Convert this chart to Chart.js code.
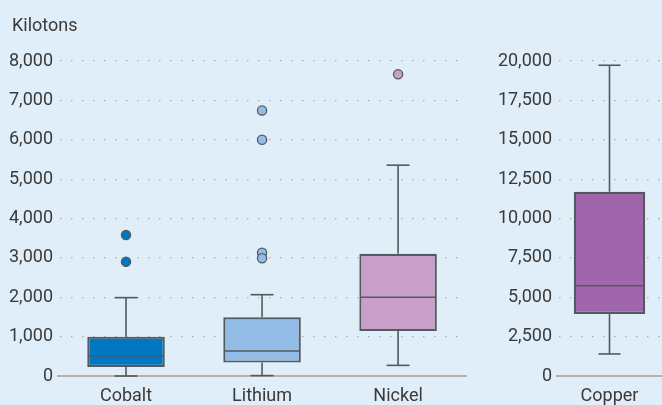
<!DOCTYPE html>
<html><head><meta charset="utf-8">
<script src="https://cdn.jsdelivr.net/npm/chart.js@4.4.0/dist/chart.umd.min.js"></script>
<style>
html,body{margin:0;padding:0;background:#e0eefa;}
#wrap{position:relative;width:662px;height:405px;overflow:hidden;background:#e0eefa}
#c1{position:absolute;left:0;top:0}
#c2{position:absolute;left:480px;top:0}
#ttl{position:absolute;left:12px;top:16px;font:18px/18px Roboto;color:#3a3a3a;white-space:nowrap}
</style></head><body>
<div id="wrap"><canvas id="c1" width="472" height="405"></canvas><canvas id="c2" width="182" height="405"></canvas><div id="ttl"></div></div>
<script>
// ---- data (left panel) ----
const categoriesLeft = ['Cobalt', 'Lithium', 'Nickel'];
const minLeft = [0, 10, 270];
const q1Left = [230, 340, 1140];
const medianLeft = [515, 635, 2000];
const q3Left = [1000, 1490, 3105];
const maxLeft = [1990, 2065, 5355];
const outliersLeft = [[3580, 2900], [6745, 6000, 3130, 2990], [7665]];
const colorsLeft = ['#0077c1', '#93bde6', '#c89fc8'];
const yTicksLeft = [0, 1000, 2000, 3000, 4000, 5000, 6000, 7000, 8000];

// ---- data (right panel) ----
const categoriesRight = ['Copper'];
const minRight = [1400];
const q1Right = [3940];
const medianRight = [5730];
const q3Right = [11700];
const maxRight = [19730];
const outliersRight = [[]];
const colorsRight = ['#a066ab'];
const yTicksRight = [0, 2500, 5000, 7500, 10000, 12500, 15000, 17500, 20000];

const yLabel = 'Kilotons';
document.getElementById('ttl').textContent = yLabel;

const TEXT = '#3a3a3a';
const STROKE = '#535a5b';
Chart.defaults.font.family = 'Roboto';
Chart.defaults.font.size = 18;
Chart.defaults.color = TEXT;

const boxPlugin = {
  id: 'boxWhisk',
  afterDatasetsDraw(chart, args, o) {
    const {ctx} = chart;
    const x = chart.scales.x, y = chart.scales.y;
    const meta = chart.getDatasetMeta(0);
    ctx.save();
    ctx.strokeStyle = STROKE;
    ctx.lineCap = 'butt';
    const seg = (x1, y1, x2, y2) => { ctx.beginPath(); ctx.moveTo(x1, y1); ctx.lineTo(x2, y2); ctx.stroke(); };
    o.cats.forEach((c, i) => {
      const cx = x.getPixelForValue(i);
      const half = meta.data[i].width / 2;
      const yMin = y.getPixelForValue(o.min[i]);
      const yQ1 = y.getPixelForValue(o.q1[i]);
      const yMed = y.getPixelForValue(o.med[i]);
      const yQ3 = y.getPixelForValue(o.q3[i]);
      const yMax = y.getPixelForValue(o.max[i]);
      ctx.lineWidth = 1.6;
      seg(cx, yQ3, cx, yMax);
      seg(cx, yQ1, cx, yMin);
      seg(cx - o.cap / 2, yMax, cx + o.cap / 2, yMax);
      seg(cx - o.cap / 2, yMin, cx + o.cap / 2, yMin);
      ctx.lineWidth = 1.6;
      seg(cx - half + 1, yMed, cx + half - 1, yMed);
    });
    ctx.restore();
  }
};

function makeChart(id, cats, mins, q1s, meds, q3s, maxs, outs, colors, ticks, opts) {
  const outlierData = outs.flatMap((arr, i) => arr.map(v => ({x: cats[i], y: v})));
  const outlierColors = outs.flatMap((arr, i) => arr.map(() => colors[i]));
  return new Chart(document.getElementById(id), {
    data: {
      labels: cats,
      datasets: [
        {
          type: 'bar',
          data: q1s.map((q, i) => [q, q3s[i]]),
          backgroundColor: colors,
          borderColor: STROKE,
          borderWidth: 2.2,
          borderSkipped: false,
          barPercentage: opts.barPct,
          categoryPercentage: 1
        },
        {
          type: 'line',
          data: outlierData,
          showLine: false,
          pointRadius: 4.6,
          pointHoverRadius: 4.6,
          pointBackgroundColor: outlierColors,
          pointBorderColor: STROKE,
          pointBorderWidth: 1.3
        }
      ]
    },
    options: {
      responsive: false,
      animation: false,
      events: [],
      layout: {padding: opts.padding},
      plugins: {
        legend: {display: false},
        tooltip: {enabled: false},
        title: {display: false},
        boxWhisk: {cats: cats, min: mins, q1: q1s, med: meds, q3: q3s, max: maxs, cap: opts.cap}
      },
      scales: {
        x: {
          type: 'category',
          grid: {display: false, drawTicks: false},
          border: {display: true, color: '#b9b1a8', width: 2},
          ticks: {padding: 10, color: TEXT, font: {size: 18}},
          afterFit: s => { s.height = 29; }
        },
        y: {
          min: 0, max: ticks[ticks.length - 1],
          afterBuildTicks: s => { s.ticks = ticks.map(v => ({value: v})); },
          ticks: {
            padding: 5, color: TEXT, font: {size: 18},
            callback: v => v.toLocaleString('en-US')
          },
          grid: {color: '#b5aca3', lineWidth: 1.2, drawTicks: false},
          border: {display: false, dash: [1.5, 9.5], dashOffset: -2},
          afterFit: s => { s.width = opts.yWidth; }
        }
      }
    },
    plugins: [boxPlugin]
  });
}

makeChart('c1', categoriesLeft, minLeft, q1Left, medianLeft, q3Left, maxLeft, outliersLeft, colorsLeft, yTicksLeft,
  {barPct: 0.57, cap: 23, yWidth: 58, padding: {left: 0, right: 0, top: 61, bottom: 0}});
makeChart('c2', categoriesRight, minRight, q1Right, medianRight, q3Right, maxRight, outliersRight, colorsRight, yTicksRight,
  {barPct: 0.68, cap: 22, yWidth: 77, padding: {left: 0, right: 0, top: 61, bottom: 0}});
</script>
</body></html>
